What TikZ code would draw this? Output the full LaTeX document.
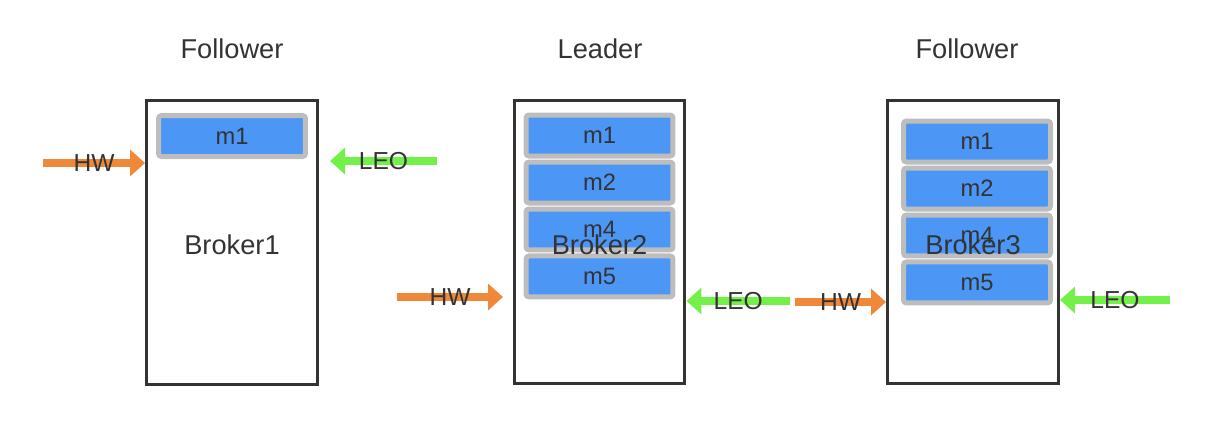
\documentclass[tikz,border=0pt]{standalone}
\usepackage{fontspec}
\setmainfont{Liberation Sans}
\usetikzlibrary{positioning,arrows.meta}
\definecolor{msgblue}{HTML}{4C97F6}
\definecolor{msgrim}{HTML}{BDBDBD}
\definecolor{hwcol}{HTML}{F0883A}
\definecolor{leocol}{HTML}{74F04B}
\definecolor{ink}{HTML}{333333}
\tikzset{
	broker/.style={draw=ink, line width=0.06cm, minimum width=3.42cm, minimum height=5.68cm, inner sep=0pt},
	bname/.style={font=\fontsize{15.5}{18}\selectfont},
	role/.style={font=\fontsize{15.5}{18}\selectfont},
	msg/.style={draw=msgrim, fill=msgblue, line width=0.1cm, rounded corners=0.06cm, minimum width=2.94cm, minimum height=0.82cm, inner sep=0pt, font=\fontsize{13.5}{16}\selectfont},
	hwline/.style={draw=hwcol, line width=0.16cm, -{Triangle[length=0.3cm,width=0.52cm]}},
	leoline/.style={draw=leocol, line width=0.16cm, -{Triangle[length=0.3cm,width=0.52cm]}},
}
\begin{document}
\begin{tikzpicture}[x=0.02cm, y=-0.02cm, font=\fontsize{14}{16}\selectfont, text=ink]
	\useasboundingbox (0,0) rectangle (1216,428);
	\node[broker] (b1) at (232,242.5) {};
	\node[broker] (b2) at (599.5,242) {};
	\node[broker] (b3) at (973,242) {};
	\node[role] (r1) at (232,49) {Follower};
	\node[role] (r2) at (600,49) {Leader};
	\node[role] (r3) at (967,49) {Follower};
	% messages in each log
	\node[msg, below=0.28cm of b1.north] (b1m1) {m1};
	\node[msg, below=0.28cm of b2.north] (b2m1) {m1};
	\node[msg, below=0.02cm of b2m1] (b2m2) {m2};
	\node[msg, below=0.02cm of b2m2] (b2m4) {m4};
	\node[msg, below=0.02cm of b2m4] (b2m5) {m5};
	\node[msg, below=0.4cm of b3.north, xshift=0.08cm] (b3m1) {m1};
	\node[msg, below=0.02cm of b3m1] (b3m2) {m2};
	\node[msg, below=0.02cm of b3m2] (b3m4) {m4};
	\node[msg, below=0.02cm of b3m4] (b3m5) {m5};
	\foreach \b in {1,2,3}{\node[bname, yshift=-0.05cm] (n\b) at (b\b) {Broker\b};}
	% HW / LEO markers
	\path
	(43,163) coordinate (hw1)
	(437,161) coordinate (leo1) (330,161) coordinate (leo1t)
	(397,297) coordinate (hw2) (503,297) coordinate (hw2t)
	(790,301) coordinate (leo2)
	(795,302) coordinate (hw3)
	(1170,300) coordinate (leo3)
	;
	\draw[hwline] (hw1) -- (hw1 -| b1.west) node[midway] {HW};
	\draw[leoline] (leo1) -- (leo1t) node[midway] {LEO};
	\draw[hwline] (hw2) -- (hw2t) node[midway] {HW};
	\draw[leoline] (leo2) -- (leo2 -| b2.east) node[midway] {LEO};
	\draw[hwline] (hw3) -- (hw3 -| b3.west) node[midway] {HW};
	\draw[leoline] (leo3) -- (leo3 -| b3.east) node[midway] {LEO};
\end{tikzpicture}
\end{document}
